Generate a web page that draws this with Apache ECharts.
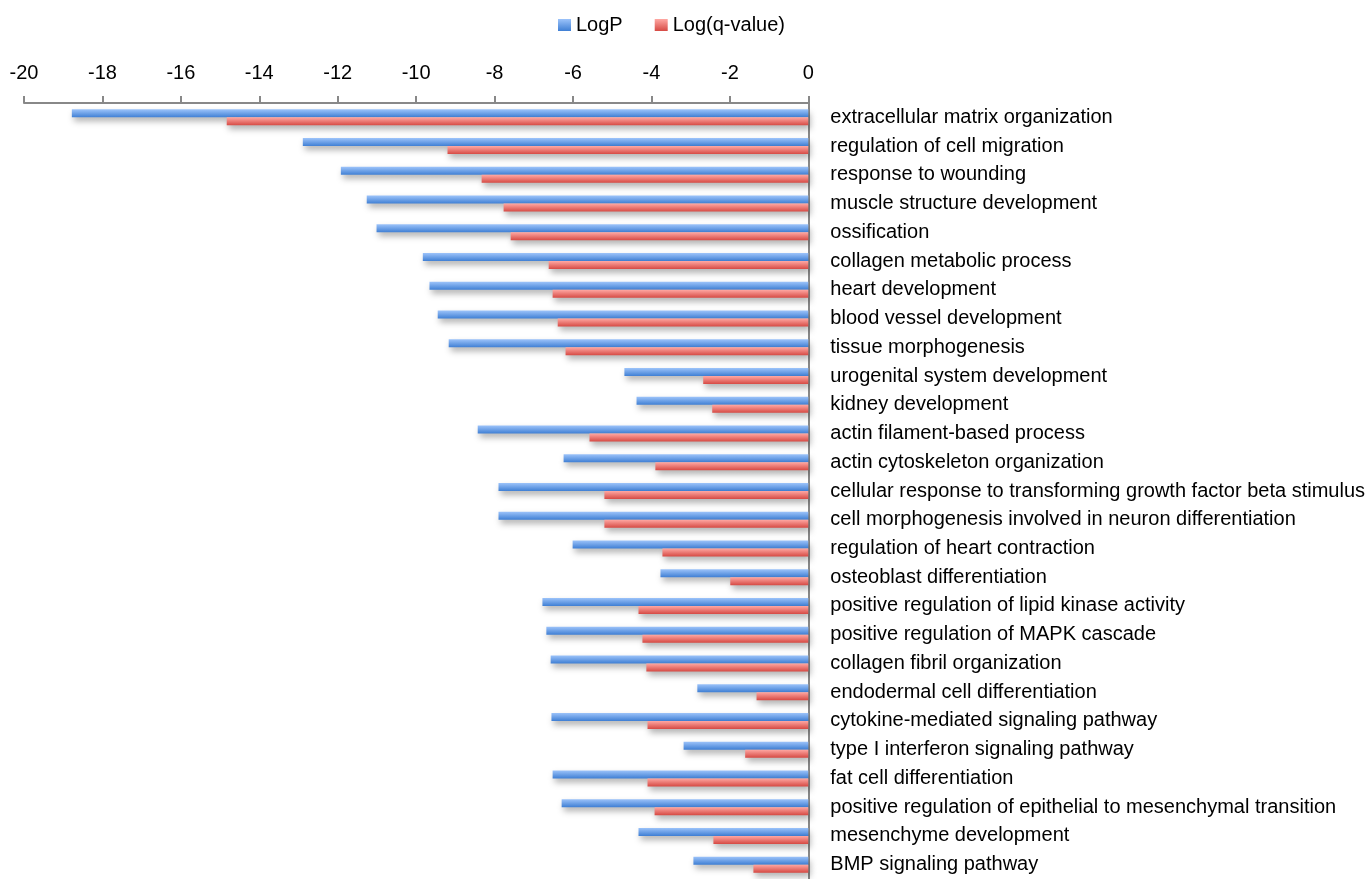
<!DOCTYPE html>
<html>
<head>
<meta charset="utf-8">
<script src="https://cdn.jsdelivr.net/npm/echarts@6/dist/echarts.min.js"></script>
<style>
  html, body { margin: 0; padding: 0; background: #fff; }
  #main { width: 1368px; height: 879px; }
</style>
</head>
<body>
<div id="main"></div>
<script>
// GO terms, top to bottom
var terms = [
    'extracellular matrix organization',
    'regulation of cell migration',
    'response to wounding',
    'muscle structure development',
    'ossification',
    'collagen metabolic process',
    'heart development',
    'blood vessel development',
    'tissue morphogenesis',
    'urogenital system development',
    'kidney development',
    'actin filament-based process',
    'actin cytoskeleton organization',
    'cellular response to transforming growth factor beta stimulus',
    'cell morphogenesis involved in neuron differentiation',
    'regulation of heart contraction',
    'osteoblast differentiation',
    'positive regulation of lipid kinase activity',
    'positive regulation of MAPK cascade',
    'collagen fibril organization',
    'endodermal cell differentiation',
    'cytokine-mediated signaling pathway',
    'type I interferon signaling pathway',
    'fat cell differentiation',
    'positive regulation of epithelial to mesenchymal transition',
    'mesenchyme development',
    'BMP signaling pathway'
];

var logP = [-18.78, -12.89, -11.92, -11.26, -11.01, -9.83, -9.66, -9.45, -9.17,
    -4.69, -4.38, -8.43, -6.24, -7.90, -7.90, -6.01, -3.77, -6.78, -6.68, -6.57,
    -2.83, -6.55, -3.18, -6.52, -6.29, -4.33, -2.93];

var logQ = [-14.83, -9.20, -8.33, -7.77, -7.59, -6.62, -6.52, -6.39, -6.19,
    -2.68, -2.45, -5.58, -3.90, -5.20, -5.20, -3.72, -1.99, -4.33, -4.23, -4.13,
    -1.32, -4.10, -1.61, -4.10, -3.92, -2.42, -1.40];

var font = "'Liberation Sans Narrow', 'Liberation Sans', Arial, sans-serif";

function grad(top, bottom) {
    return new echarts.graphic.LinearGradient(0, 0, 0, 1, [
        { offset: 0, color: top },
        { offset: 1, color: bottom }
    ]);
}

var chart = echarts.init(document.getElementById('main'));

var option = {
    backgroundColor: '#fff',
    animation: false,
    textStyle: { fontFamily: font, color: '#000' },
    legend: {
        top: 15,
        left: 558,
        padding: 0,
        itemWidth: 13,
        itemHeight: 12,
        itemGap: 32,
        icon: 'rect',
        textStyle: { fontSize: 20, fontFamily: font, color: '#000' },
        data: ['LogP', 'Log(q-value)']
    },
    grid: { left: 24, right: 559, top: 103, bottom: -3 },
    xAxis: {
        type: 'value',
        position: 'top',
        min: -20,
        max: 0,
        interval: 2,
        splitLine: { show: false },
        axisLine: { show: true, lineStyle: { color: '#888', width: 2 } },
        axisTick: { show: true, length: 7, lineStyle: { color: '#888', width: 2 } },
        axisLabel: { fontSize: 20, color: '#000', margin: 20, fontFamily: font }
    },
    yAxis: {
        type: 'category',
        position: 'right',
        inverse: true,
        data: terms,
        axisLine: { lineStyle: { color: '#888', width: 2 } },
        axisTick: { inside: true, length: 7, lineStyle: { color: '#888', width: 2 } },
        axisLabel: { fontSize: 20, color: '#000', margin: 22, align: 'left', fontFamily: font }
    },
    series: [
        {
            name: 'LogP',
            type: 'bar',
            data: logP,
            barWidth: 8,
            barGap: '0%',
            itemStyle: {
                color: grad('#9cc3fa', '#3f7fd4'),
                shadowColor: 'rgba(0,0,0,0.3)',
                shadowBlur: 6,
                shadowOffsetY: 4,
                shadowOffsetX: 2
            }
        },
        {
            name: 'Log(q-value)',
            type: 'bar',
            data: logQ,
            barWidth: 8,
            barGap: '0%',
            itemStyle: {
                color: grad('#ffa8a3', '#d64a44'),
                shadowColor: 'rgba(0,0,0,0.3)',
                shadowBlur: 6,
                shadowOffsetY: 4,
                shadowOffsetX: 2
            }
        }
    ]
};

chart.setOption(option);
</script>
</body>
</html>
